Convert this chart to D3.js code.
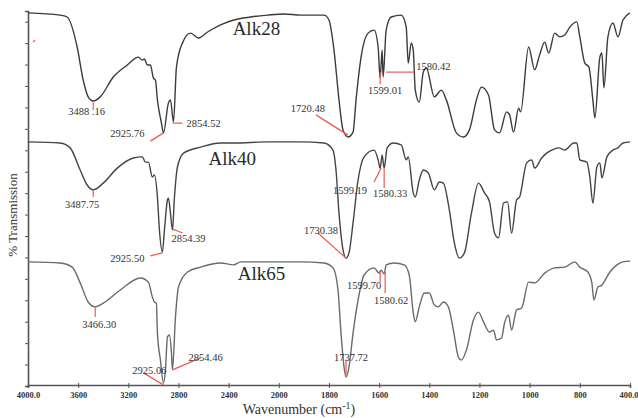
<!DOCTYPE html>
<html>
<head>
<meta charset="utf-8">
<script src="https://cdn.jsdelivr.net/npm/d3@7"></script>
<style>
  body { margin: 0; background: #fff; }
  svg { display: block; }
</style>
</head>
<body>
<div class="ftir"></div>
<script>
var width = 638;
var height = 418;

// wavenumber (cm-1) and % transmission (stacked plot units) for each sample
var wn28 = [4000,3744,3688,3608,3560,3520,3480,3424,3320,3208,3120,3088,3072,3048,3024,3000,2984,2968,2936,2920,2880,2864,2840,2816,2768,2704,2640,2568,2464,2360,2224,2088,1980,1912,1820,1800,1780,1760,1744,1724,1704,1692,1672,1644,1620,1604,1596,1588,1584,1572,1552,1512,1492,1484,1472,1464,1456,1440,1424,1412,1380,1352,1332,1292,1264,1240,1212,1192,1164,1140,1120,1092,1080,1064,1044,1036,1004,980,960,940,924,900,880,860,840,812,800,760,728,696,680,640,624,608,576,536,496,456,400];
var t28 = [99.5,98.9,98.4,90.4,81.6,77.1,76.0,77.1,82.4,85.6,87.7,86.9,87.2,85.6,85.6,82.1,81.6,76.3,70.1,67.5,75.5,76.3,70.4,85.1,91.5,94.1,92.8,94.4,96.3,97.6,98.4,98.9,99.2,98.9,98.9,97.6,89.6,76.3,68.3,66.4,67.7,76.3,87.7,94.1,94.9,90.4,82.1,89.6,82.4,94.9,98.4,98.9,95.7,86.1,91.5,89.6,78.9,75.7,83.7,84.8,77.1,78.9,76.3,67.5,66.4,68.3,76.3,79.7,77.6,68.3,67.5,73.1,72.3,67.7,74.1,73.1,90.4,84.3,88.3,91.7,88.8,94.1,93.1,93.6,95.7,97.1,93.1,86.1,85.1,76.3,71.5,87.7,88.8,79.5,93.1,96.8,93.1,97.6,99.5];

var wn40 = [4000,3744,3664,3584,3528,3480,3400,3288,3160,3088,3064,3040,3008,2992,2968,2952,2928,2912,2888,2880,2864,2848,2832,2808,2760,2624,2464,2360,2088,1912,1820,1784,1772,1760,1744,1732,1720,1704,1684,1660,1620,1604,1596,1588,1580,1568,1544,1512,1492,1484,1464,1456,1440,1424,1404,1380,1360,1344,1320,1300,1280,1260,1232,1204,1180,1160,1140,1124,1104,1088,1072,1052,1040,1012,992,980,952,932,912,884,860,824,812,800,744,720,696,664,640,624,584,536,496,456,400];
var t40 = [65.1,64.8,63.5,57.6,53.6,52.3,54.1,58.1,60.8,61.1,59.7,59.7,55.7,56.3,50.4,41.6,35.7,41.6,49.6,50.1,46.1,41.6,50.4,58.4,62.1,63.7,64.8,64.8,65.1,65.1,64.8,62.9,57.6,46.1,36.3,34.1,35.5,43.5,54.9,61.1,62.9,60.3,58.1,61.6,58.1,63.5,64.8,64.3,60.3,61.1,51.5,50.4,54.9,57.6,56.8,52.3,54.4,54.1,46.9,38.1,34.1,35.5,46.1,54.1,51.5,49.1,40.8,39.5,48.8,49.1,40.8,49.6,50.4,59.5,60.3,58.1,60.8,62.1,62.9,63.5,62.9,64.8,64.8,60.3,59.7,55.7,48.8,58.4,59.5,55.5,61.1,62.9,63.5,64.8,65.1];

var wn65 = [4000,3744,3648,3584,3520,3464,3400,3264,3104,3040,3008,2992,2976,2968,2944,2920,2904,2888,2872,2856,2848,2824,2800,2728,2624,2464,2360,2304,2088,1912,1820,1784,1764,1752,1740,1732,1720,1704,1684,1660,1620,1600,1592,1580,1572,1540,1500,1480,1464,1456,1440,1420,1400,1380,1364,1344,1324,1304,1284,1272,1252,1224,1204,1184,1160,1144,1132,1112,1100,1084,1072,1052,1032,1004,980,940,900,860,820,800,736,704,688,656,624,608,560,504,456,400];
var t65 = [33.1,32.8,31.7,27.5,22.4,21.1,22.1,25.6,28.8,27.7,23.7,22.4,22.1,14.1,6.9,0.8,4.3,13.1,13.6,8.8,4.3,18.4,26.4,30.4,31.7,32.8,32.3,33.1,33.1,33.1,32.8,31.5,25.6,14.1,5.1,2.4,5.1,14.1,22.9,29.6,31.5,30.1,30.9,29.9,32.3,32.8,32.3,29.6,19.5,17.1,21.1,24.8,24.8,21.6,21.1,22.4,21.1,14.9,7.7,6.9,9.6,17.6,19.7,17.1,14.4,14.9,12.3,12.8,16.8,18.9,14.9,20.3,20.8,27.7,27.5,30.1,31.5,31.7,33.1,31.7,30.4,27.5,22.9,26.4,26.9,27.7,30.4,32.3,33.1,33.3];

var seriesNames = ["Alk28", "Alk40", "Alk65"];
var seriesColors = ["#3b3b3b", "#444444", "#6a6a6a"];
// where each sample name sits: [wavenumber, transmission]
var namePos = [[2368, 93.6], [2560, 58.9], [2328, 28.3]];

// peak labels: [text, textWn, textT, lineWn1, lineT1, lineWn2, lineT2]
var peaks28 = [
    ["3488 .16", 3680, 72.3, 3480, 75.7, 3480, 73.6],
    ["2925.76", 3344, 66.4, 3024, 65.3, 2920, 67.5],
    ["2854.52", 2736, 69.1, 2848, 70.1, 2768, 70.1],
    ["1720.48", 1952, 73.1, 1852, 72.3, 1724, 66.9],
    ["1599.01", 1644, 77.9, 1596, 83.7, 1596, 80.5],
    ["1580.42", 1452, 84.3, 1572, 83.7, 1460, 83.7]
];
var peaks40 = [
    ["3487.75", 3704, 47.5, 3480, 52.3, 3480, 50.4],
    ["2925.50", 3344, 33.1, 3024, 34.7, 2928, 35.5],
    ["2854.39", 2856, 38.4, 2848, 41.9, 2768, 40.8],
    ["1730.38", 1900, 40.5, 1844, 40.8, 1732, 34.1],
    ["1599.19", 1784, 51.2, 1620, 54.4, 1592, 58.1],
    ["1580.33", 1624, 50.4, 1580, 58.1, 1580, 52.8]
];
var peaks65 = [
    ["3466.30", 3568, 15.5, 3464, 21.1, 3464, 18.4],
    ["2925.06", 3168, 3.2, 3080, 3.5, 2920, 0.3],
    ["2854.46", 2720, 6.7, 2848, 4.3, 2624, 7.5],
    ["1737.72", 1780, 6.7, 1732, 6.9, 1732, 2.7],
    ["1599.70", 1728, 25.9, 1596, 30.9, 1596, 27.7],
    ["1580.62", 1620, 21.9, 1576, 30.4, 1576, 24.8]
];

var xTicks = [4000, 3600, 3200, 2800, 2400, 2000, 1800, 1600, 1400, 1200, 1000, 800, 400];
var xTickLabels = ["4000.0", "3600", "3200", "2800", "2400", "2000", "1800", "1600", "1400", "1200", "1000", "800", "400.0"];

var svg = d3.select(".ftir")
    .append("svg")
    .attr("width", width)
    .attr("height", height);

// the instrument axis changes scale at 2000 cm-1
var xScale = d3.scaleLinear()
    .domain([4000, 2000, 800, 400])
    .range([28, 278.8, 579.8, 630]);

var yScale = d3.scaleLinear()
    .domain([0, 100])
    .range([386, 11]);

var axisColor = "#555";
var serif = "'Liberation Serif', 'DejaVu Serif', serif";

// x axis
var xAxis = svg.append("g")
    .attr("transform", "translate(0,385)")
    .call(d3.axisBottom(xScale)
        .tickValues(xTicks)
        .tickFormat(function(d, i) { return xTickLabels[i]; })
        .tickSizeOuter(0)
        .tickSize(3));
xAxis.select(".domain").attr("stroke", axisColor).attr("stroke-width", 1.6);
xAxis.selectAll(".tick line").attr("stroke", axisColor).attr("y1", -2).attr("y2", 3);
xAxis.selectAll(".tick text")
    .attr("y", 7)
    .attr("fill", "#333")
    .style("font-family", serif)
    .style("font-size", "8.5px")
    .style("font-weight", "bold");
// keep the last label inside the page
xAxis.selectAll(".tick text")
    .filter(function(d) { return d === 400; })
    .attr("text-anchor", "end")
    .attr("x", 8);

// y axis, unlabelled ticks
var yTicks = d3.range(0, 18).map(function(i) { return i * 100 / 17.5; });
var yAxis = svg.append("g")
    .attr("transform", "translate(28,0)")
    .call(d3.axisLeft(yScale)
        .tickValues(yTicks)
        .tickFormat("")
        .tickSizeOuter(3)
        .tickSize(3));
yAxis.select(".domain").attr("stroke", axisColor).attr("stroke-width", 1.6);
yAxis.selectAll(".tick line").attr("stroke", axisColor);

svg.append("text")
    .attr("transform", "translate(17,215) rotate(-90)")
    .attr("text-anchor", "middle")
    .attr("fill", "#333")
    .style("font-family", serif)
    .style("font-size", "13px")
    .text("% Transmission");

var xLabel = svg.append("text")
    .attr("x", 299)
    .attr("y", 414)
    .attr("text-anchor", "middle")
    .attr("fill", "#333")
    .style("font-family", serif)
    .style("font-size", "14px");
xLabel.append("tspan").text("Wavenumber (cm");
xLabel.append("tspan").attr("dy", -5).style("font-size", "10px").text("-1");
xLabel.append("tspan").attr("dy", 5).text(")");

var line = d3.line()
    .x(function(d) { return xScale(d[0]); })
    .y(function(d) { return yScale(d[1]); })
    .curve(d3.curveMonotoneX);

var seriesData = [d3.zip(wn28, t28), d3.zip(wn40, t40), d3.zip(wn65, t65)];
var peakData = [peaks28, peaks40, peaks65];

seriesData.forEach(function(data, i) {
    svg.append("path")
        .datum(data)
        .attr("fill", "none")
        .attr("stroke", seriesColors[i])
        .attr("stroke-width", 1.4)
        .attr("stroke-linejoin", "round")
        .attr("d", line);

    svg.append("text")
        .attr("x", xScale(namePos[i][0]))
        .attr("y", yScale(namePos[i][1]))
        .attr("fill", "#2a2a2a")
        .style("font-family", serif)
        .style("font-size", "19px")
        .text(seriesNames[i]);

    var g = svg.append("g");
    g.selectAll("line")
        .data(peakData[i])
        .enter()
        .append("line")
        .attr("x1", function(d) { return xScale(d[3]); })
        .attr("y1", function(d) { return yScale(d[4]); })
        .attr("x2", function(d) { return xScale(d[5]); })
        .attr("y2", function(d) { return yScale(d[6]); })
        .attr("stroke", "#ee5a50")
        .attr("stroke-width", 1.2);
    g.selectAll("text")
        .data(peakData[i])
        .enter()
        .append("text")
        .attr("x", function(d) { return xScale(d[1]); })
        .attr("y", function(d) { return yScale(d[2]); })
        .attr("fill", "#333")
        .style("font-family", serif)
        .style("font-size", "10.5px")
        .text(function(d) { return d[0]; });
});

// stray red mark near the top left corner
svg.append("line")
    .attr("x1", xScale(3960)).attr("y1", yScale(91.7))
    .attr("x2", xScale(3944)).attr("y2", yScale(92.3))
    .attr("stroke", "#ee5a50")
    .attr("stroke-width", 1.2);
</script>
</body>
</html>
